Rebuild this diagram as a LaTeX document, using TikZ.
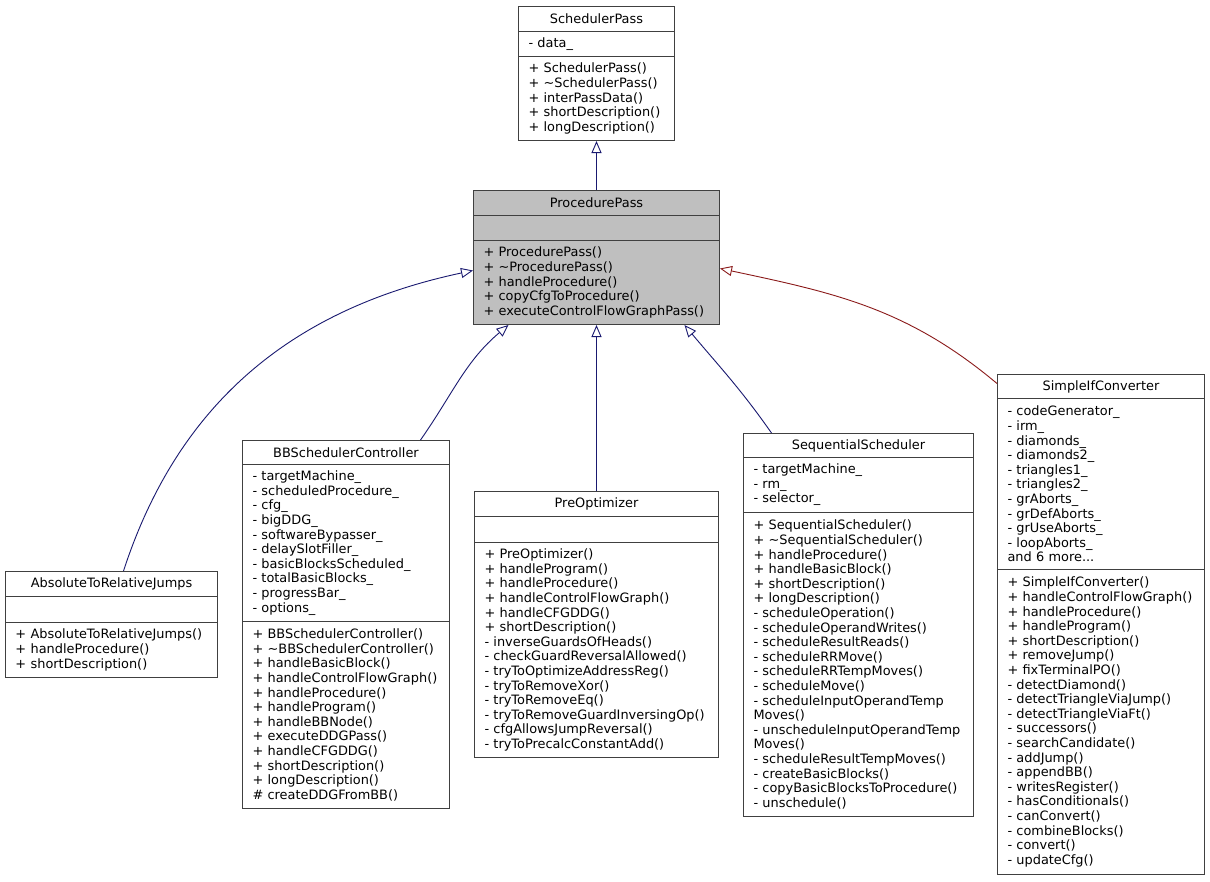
\documentclass[tikz,border=0pt]{standalone}
\usepackage{fontspec}
\setmainfont{DejaVu Sans}
\usetikzlibrary{arrows.meta}
\definecolor{edgeblue}{RGB}{25,25,112}
\definecolor{edgered}{RGB}{139,26,26}
\definecolor{curfill}{RGB}{191,191,191}
\definecolor{boxline}{RGB}{64,64,64}
\hyphenpenalty=10000
\exhyphenpenalty=10000

\begin{document}
\begin{tikzpicture}[x=1pt, y=-1pt,
    every node/.style={draw=boxline, line width=1pt, rectangle, anchor=north west,
      inner xsep=10pt, inner ysep=0pt, font=\fontsize{12.9}{14.6}\selectfont},
    titlebox/.style={align=center, minimum height=25pt},
    membox/.style={align=left},
    inherit/.style={draw=edgeblue, line width=0.9pt,
      -{Triangle[open, length=12pt, width=10pt, fill=white]}},
    inheritred/.style={inherit, draw=edgered}]
  \useasboundingbox[fill=white] (0,0) rectangle (1210,881);

  % base classes
  \node[titlebox, minimum width=156pt] (schedpass) at (518,6) {SchedulerPass};
  \node[membox, text width=136pt, minimum height=25pt] (schedpass-attr) at (518,31) {- data\_};
  \node[membox, text width=136pt, minimum height=84pt] (schedpass-ops) at (518,56)
    {+ SchedulerPass()\\+ \textasciitilde SchedulerPass()\\+ interPassData()\\+ shortDescription()\\+ longDescription()};

  \node[titlebox, fill=curfill, minimum width=246pt] (procpass) at (473,190) {ProcedurePass};
  \node[membox, fill=curfill, text width=226pt, minimum height=25pt] (procpass-attr) at (473,215) {};
  \node[membox, fill=curfill, text width=226pt, minimum height=84pt] (procpass-ops) at (473,240)
    {+ ProcedurePass()\\+ \textasciitilde ProcedurePass()\\+ handleProcedure()\\+ copyCfgToProcedure()\\+ executeControlFlowGraphPass()};

  % derived classes
  \node[titlebox, minimum width=212pt] (absrel) at (5,571) {AbsoluteToRelativeJumps};
  \node[membox, text width=192pt, minimum height=26pt] (absrel-attr) at (5,596) {};
  \node[membox, text width=192pt, minimum height=55pt] (absrel-ops) at (5,622)
    {+ AbsoluteToRelativeJumps()\\+ handleProcedure()\\+ shortDescription()};

  \node[titlebox, minimum width=207pt, minimum height=24pt] (bbsched) at (242,440) {BBSchedulerController};
  \node[membox, text width=187pt, minimum height=157pt] (bbsched-attr) at (242,464)
    {- targetMachine\_\\- scheduledProcedure\_\\- cfg\_\\- bigDDG\_\\- softwareBypasser\_\\- delaySlotFiller\_\\- basicBlocksScheduled\_\\- totalBasicBlocks\_\\- progressBar\_\\- options\_};
  \node[membox, text width=187pt, minimum height=187pt] (bbsched-ops) at (242,621)
    {+ BBSchedulerController()\\+ \textasciitilde BBSchedulerController()\\+ handleBasicBlock()\\+ handleControlFlowGraph()\\+ handleProcedure()\\+ handleProgram()\\+ handleBBNode()\\+ executeDDGPass()\\+ handleCFGDDG()\\+ shortDescription()\\+ longDescription()\\\# createDDGFromBB()};

  \node[titlebox, minimum width=244pt] (preopt) at (474,491) {PreOptimizer};
  \node[membox, text width=224pt, minimum height=26pt] (preopt-attr) at (474,516) {};
  \node[membox, text width=224pt, minimum height=215pt] (preopt-ops) at (474,542)
    {+ PreOptimizer()\\+ handleProgram()\\+ handleProcedure()\\+ handleControlFlowGraph()\\+ handleCFGDDG()\\+ shortDescription()\\- inverseGuardsOfHeads()\\- checkGuardReversalAllowed()\\- tryToOptimizeAddressReg()\\- tryToRemoveXor()\\- tryToRemoveEq()\\- tryToRemoveGuardInversingOp()\\- cfgAllowsJumpReversal()\\- tryToPrecalcConstantAdd()};

  \node[titlebox, minimum width=230pt, minimum height=24pt] (seqsched) at (743,433) {SequentialScheduler};
  \node[membox, text width=210pt, minimum height=55pt] (seqsched-attr) at (743,457)
    {- targetMachine\_\\- rm\_\\- selector\_};
  \node[membox, text width=210pt, minimum height=304pt] (seqsched-ops) at (743,512)
    {+ SequentialScheduler()\\+ \textasciitilde SequentialScheduler()\\+ handleProcedure()\\+ handleBasicBlock()\\+ shortDescription()\\+ longDescription()\\- scheduleOperation()\\- scheduleOperandWrites()\\- scheduleResultReads()\\- scheduleRRMove()\\- scheduleRRTempMoves()\\- scheduleMove()\\- scheduleInputOperandTemp\\Moves()\\- unscheduleInputOperandTemp\\Moves()\\- scheduleResultTempMoves()\\- createBasicBlocks()\\- copyBasicBlocksToProcedure()\\- unschedule()};

  \node[titlebox, minimum width=207pt, minimum height=24pt] (ifconv) at (997,374) {SimpleIfConverter};
  \node[membox, text width=187pt, minimum height=171pt] (ifconv-attr) at (997,398)
    {- codeGenerator\_\\- irm\_\\- diamonds\_\\- diamonds2\_\\- triangles1\_\\- triangles2\_\\- grAborts\_\\- grDefAborts\_\\- grUseAborts\_\\- loopAborts\_\\and 6 more...};
  \node[membox, text width=187pt, minimum height=305pt] (ifconv-ops) at (997,569)
    {+ SimpleIfConverter()\\+ handleControlFlowGraph()\\+ handleProcedure()\\+ handleProgram()\\+ shortDescription()\\+ removeJump()\\+ fixTerminalPO()\\- detectDiamond()\\- detectTriangleViaJump()\\- detectTriangleViaFt()\\- successors()\\- searchCandidate()\\- addJump()\\- appendBB()\\- writesRegister()\\- hasConditionals()\\- canConvert()\\- combineBlocks()\\- convert()\\- updateCfg()};

  % inheritance
  \draw[inherit] (procpass) -- (schedpass-ops);
  \draw[inherit] ([xshift=12pt]absrel.north) to[out=72, in=192] ([yshift=12pt]procpass-ops.west);
  \draw[inherit] ([xshift=74.5pt]bbsched.north) to[out=55, in=220] ([xshift=-88pt]procpass-ops.south);
  \draw[inherit] (preopt) -- (procpass-ops);
  \draw[inherit] ([xshift=-87pt]seqsched.north) to[out=125, in=-50] ([xshift=88pt]procpass-ops.south);
  \draw[inheritred] ([yshift=3pt]ifconv.west) to[out=140, in=-12] ([yshift=14pt]procpass-ops.east);
\end{tikzpicture}
\end{document}
